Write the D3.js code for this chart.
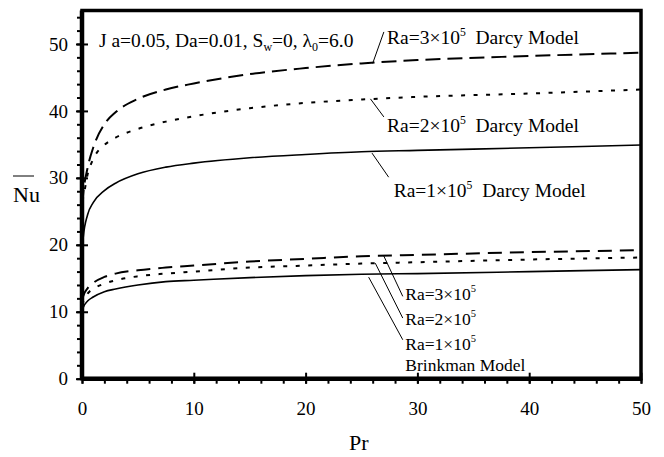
<!DOCTYPE html>
<html lang="en">
<head>
    <meta charset="UTF-8">
    <title>Nu vs Pr</title>
    <script src="https://d3js.org/d3.v7.min.js"></script>
    <style>
        body { margin: 0; background: #fff; }
        text { font-family: 'Liberation Serif', 'Times New Roman', serif; fill: #000; }
        .tick text { font-size: 19px; }
        .curve { fill: none; stroke: #000; }
        .leader { stroke: #000; stroke-width: 1; }
    </style>
</head>
<body>
<div id="chart"></div>
<script>
    // Prandtl number values (x)
    const pr = [0.02, 0.1, 0.5, 1, 2, 3, 5, 7.5, 10, 15, 20, 25, 30, 40, 50];

    // Darcy model curves
    const darcyRa3 = [26.0, 27.5, 31.5, 34.5, 38.0, 39.8, 41.8, 43.2, 44.1, 45.5, 46.4, 47.1, 47.6, 48.2, 48.7];
    const darcyRa2 = [26.5, 27.0, 30.5, 32.8, 34.9, 36.0, 37.3, 38.4, 39.2, 40.4, 41.2, 41.7, 42.1, 42.6, 43.2];
    const darcyRa1 = [19.5, 21.0, 24.5, 26.3, 28.1, 29.2, 30.6, 31.6, 32.2, 33.0, 33.5, 33.9, 34.1, 34.5, 34.9];

    // Brinkman model curves
    const brinkRa3 = [11.8, 12.3, 13.5, 14.3, 15.2, 15.7, 16.2, 16.6, 16.9, 17.5, 17.9, 18.3, 18.5, 18.9, 19.2];
    const brinkRa2 = [11.0, 11.4, 12.7, 13.4, 14.2, 14.7, 15.3, 15.7, 16.0, 16.6, 16.9, 17.2, 17.4, 17.8, 18.1];
    const brinkRa1 = [10.2, 10.6, 11.6, 12.2, 13.0, 13.4, 14.0, 14.5, 14.7, 15.1, 15.4, 15.6, 15.7, 16.0, 16.3];

    const xTicks = [0, 10, 20, 30, 40, 50];
    const yTicks = [0, 10, 20, 30, 40, 50];

    const width = 664, height = 457;
    const margin = { left: 82, right: 23, top: 10.5, bottom: 78.3 };

    const svg = d3.select("#chart").append("svg")
        .attr("width", width)
        .attr("height", height);

    const x = d3.scaleLinear().domain([0, 50]).range([margin.left, width - margin.right]);
    const y = d3.scaleLinear().domain([0, 55]).range([height - margin.bottom, margin.top]);

    // minor ticks
    svg.append("g")
        .attr("transform", `translate(0,${y(0)})`)
        .call(d3.axisBottom(x).tickValues(d3.range(0, 51, 2)).tickSize(5).tickFormat(""))
        .call(g => g.select(".domain").remove())
        .call(g => g.selectAll("line").attr("stroke-width", 2));
    svg.append("g")
        .attr("transform", `translate(${x(0)},0)`)
        .call(d3.axisLeft(y).tickValues(d3.range(0, 55, 2)).tickSize(5).tickFormat(""))
        .call(g => g.select(".domain").remove())
        .call(g => g.selectAll("line").attr("stroke-width", 2));

    // major ticks (crossing the axis)
    svg.append("g")
        .attr("transform", `translate(0,${y(0)})`)
        .call(d3.axisBottom(x).tickValues(xTicks).tickSize(5).tickPadding(18))
        .call(g => g.select(".domain").remove())
        .call(g => g.selectAll("line").attr("y1", -6).attr("stroke-width", 2));
    svg.append("g")
        .attr("transform", `translate(${x(0)},0)`)
        .call(d3.axisLeft(y).tickValues(yTicks).tickSize(6).tickPadding(8))
        .call(g => g.select(".domain").remove())
        .call(g => g.selectAll("line").attr("x1", 6).attr("stroke-width", 2));

    // frame
    svg.append("rect")
        .attr("x", x(0)).attr("y", y(55))
        .attr("width", x(50) - x(0)).attr("height", y(0) - y(55))
        .attr("fill", "none").attr("stroke", "#000").attr("stroke-width", 3.5);
    svg.append("line").attr("x1", x(0)).attr("x2", x(0)).attr("y1", y(55)).attr("y2", y(0))
        .attr("stroke", "#000").attr("stroke-width", 4.5);
    svg.append("line").attr("x1", x(0)).attr("x2", x(50)).attr("y1", y(0)).attr("y2", y(0))
        .attr("stroke", "#000").attr("stroke-width", 4.5);

    // curves
    const line = d3.line()
        .x((d, i) => x(pr[i]))
        .y(d => y(d))
        .curve(d3.curveMonotoneX);

    const series = [
        { v: darcyRa3, dash: "15,7", w: 2 },
        { v: darcyRa2, dash: "4,8.5", w: 2 },
        { v: darcyRa1, dash: null, w: 1.6 },
        { v: brinkRa3, dash: "14,8", w: 2 },
        { v: brinkRa2, dash: "4,8.5", w: 2 },
        { v: brinkRa1, dash: null, w: 1.6 }
    ];
    series.forEach(s => {
        svg.append("path")
            .attr("class", "curve")
            .attr("d", line(s.v))
            .attr("stroke-width", s.w)
            .attr("stroke-dasharray", s.dash);
    });

    // annotations (data units)
    const leaders = [
        [26.0, 47.1, 27.0, 51.8],
        [25.8, 41.8, 27.0, 39.1],
        [25.94, 33.7, 27.43, 30.1],
        [26.99, 18.35, 28.69, 12.3],
        [26.23, 17.26, 28.69, 9.06],
        [25.64, 15.17, 28.69, 5.82]
    ];
    leaders.forEach(l => {
        svg.append("line").attr("class", "leader")
            .attr("x1", x(l[0])).attr("y1", y(l[1]))
            .attr("x2", x(l[2])).attr("y2", y(l[3]));
    });

    function raLabel(px, py, num, suffix, size) {
        const t = svg.append("text")
            .attr("x", x(px)).attr("y", y(py))
            .attr("font-size", size);
        t.append("tspan").text("Ra=" + num + "\u00d710");
        t.append("tspan").attr("dy", -size * 0.42).attr("font-size", size * 0.6).text("5");
        if (suffix) t.append("tspan").attr("dy", size * 0.42).text("\u00a0 " + suffix);
    }
    raLabel(27.28, 50.0, 3, "Darcy Model", 19.5);
    raLabel(27.28, 36.85, 2, "Darcy Model", 19.5);
    raLabel(27.88, 27.15, 1, "Darcy Model", 19.5);
    raLabel(28.92, 11.8, 3, null, 17.5);
    raLabel(28.92, 8.06, 2, null, 17.5);
    raLabel(28.92, 4.33, 1, null, 17.5);
    svg.append("text").attr("x", x(28.92)).attr("y", y(1.1))
        .attr("font-size", 17.5).text("Brinkman Model");

    // parameter text
    const p = svg.append("text").attr("x", x(1.52)).attr("y", y(49.5)).attr("font-size", 19.5);
    p.append("tspan").text("J a=0.05, Da=0.01, S");
    p.append("tspan").attr("dy", 4).attr("font-size", 12).text("w");
    p.append("tspan").attr("dy", -4).text("=0, \u03bb");
    p.append("tspan").attr("dy", 4).attr("font-size", 12).text("0");
    p.append("tspan").attr("dy", -4).text("=6.0");

    // axis titles
    svg.append("text").attr("x", 13).attr("y", 202).attr("font-size", 22).text("Nu");
    svg.append("line").attr("x1", 13).attr("x2", 34).attr("y1", 176).attr("y2", 176)
        .attr("stroke", "#000").attr("stroke-width", 1);
    svg.append("text").attr("x", 349).attr("y", 450).attr("font-size", 22).text("Pr");
</script>
</body>
</html>
